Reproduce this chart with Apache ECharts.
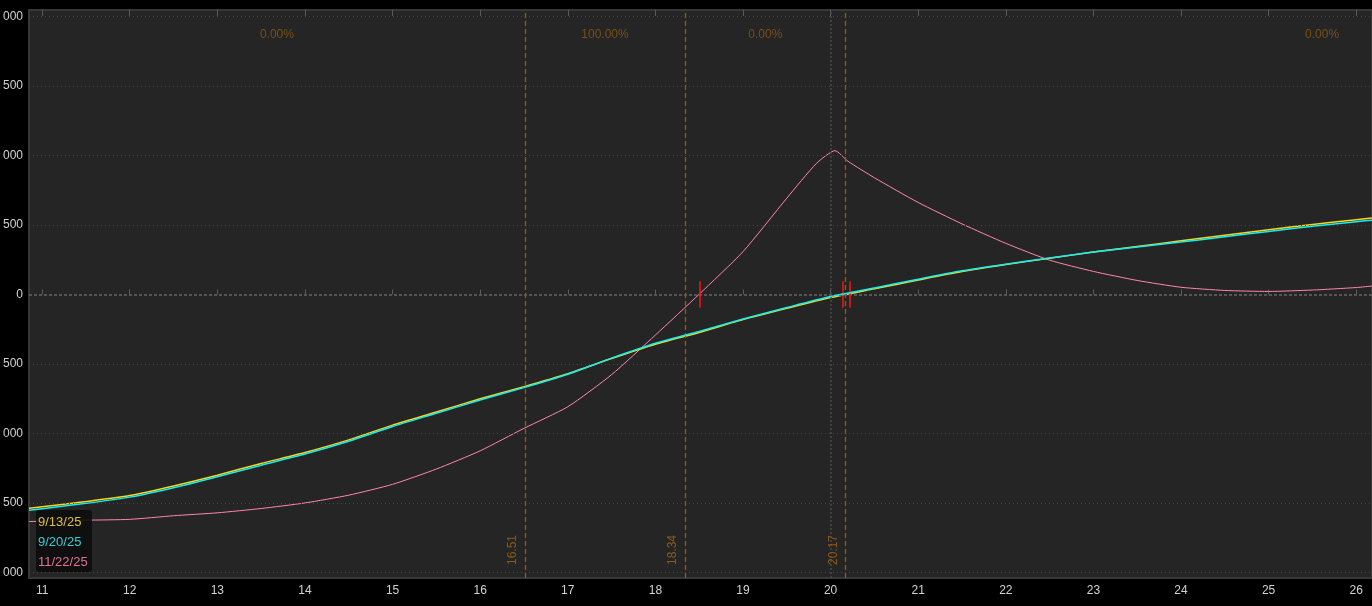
<!DOCTYPE html>
<html>
<head>
<meta charset="utf-8">
<style>
  html, body { margin: 0; padding: 0; background: #000; }
  #chart { width: 1372px; height: 606px; }
</style>
<script src="https://cdn.jsdelivr.net/npm/echarts@6/dist/echarts.min.js"></script>
</head>
<body>
<div id="chart"></div>
<script>
// ---- data ----
const xTicks = [11, 12, 13, 14, 15, 16, 17, 18, 19, 20, 21, 22, 23, 24, 25, 26];
const yTicks = [-2000, -1500, -1000, -500, 0, 500, 1000, 1500, 2000];

const seriesNames = ['9/13/25', '9/20/25', '11/22/25'];

const xs = [10.85, 11, 11.5, 12, 12.5, 13, 13.5, 14, 14.5, 15, 15.5, 16, 16.5, 17, 17.5, 18, 18.5, 19, 19.5, 20, 20.5, 21, 21.5, 22, 22.5, 23, 23.5, 24, 24.5, 25, 25.5, 26, 26.2];
const yellowVals = [-1538, -1527, -1490, -1447, -1378, -1300, -1216, -1137, -1046, -940, -846, -750, -663, -570, -461, -358, -273, -181, -100, -22, 41, 104, 165, 215, 261, 305, 346, 386, 427, 466, 504, 538, 552];
const cyanVals   = [-1552, -1541, -1503, -1458, -1390, -1311, -1228, -1148, -1056, -950, -855, -759, -670, -574, -458, -351, -266, -176, -94, -15, 47, 110, 170, 218, 263, 305, 341, 377, 416, 454, 491, 524, 536];

const pinkX = [10.85, 11.5, 12, 12.5, 13, 13.5, 14, 14.5, 15, 15.5, 16, 16.5, 17, 17.5, 18, 18.5, 19, 19.5, 19.84, 20.05, 20.2, 20.5, 21, 21.5, 22, 22.5, 23, 23.5, 24, 24.5, 25, 25.5, 26, 26.18];
const pinkVals = [-1634, -1624, -1618, -1592, -1571, -1540, -1500, -1444, -1366, -1256, -1125, -963, -808, -577, -292, 2, 308, 693, 944, 1035, 958, 840, 662, 508, 368, 247, 166, 101, 52, 29, 22, 32, 50, 61];

const strikeLines = [16.51, 18.34, 20.17];
const currentPrice = 20.0;
const zoneLabelX = [13.68, 17.425, 19.255, 25.61];
const zoneLabelY = [1867, 1867, 1867, 1867];
const zoneLabels = ['0.00%', '100.00%', '0.00%', '0.00%'];
const breakevens = [18.51, 20.134, 20.214];
const breakevenHalf = 96;

// ---- build ----
const FONT = 'Liberation Sans';
const ORANGE = '#9a580a';
const pair = (a, b) => a.map((v, i) => [v, b[i]]);

const gridLineData = yTicks.filter(v => v !== 0).map(v => ({
  yAxis: v,
  lineStyle: { type: [1, 3], color: '#464646', width: 1 },
  label: { show: false }
}));
const zeroLine = {
  yAxis: 0,
  lineStyle: { type: [3, 2], color: '#555555', width: 2 },
  label: { show: false }
};
const priceLine = {
  xAxis: currentPrice,
  lineStyle: { type: [2, 2], color: '#4a4a4a', width: 1.5 },
  label: { show: false }
};
const strikeData = strikeLines.map(v => ({
  xAxis: v,
  lineStyle: { color: ORANGE, type: [5, 3], width: 1.3 },
  label: { formatter: String(v) }
}));
const beData = breakevens.map(v => [
  { coord: [v, -breakevenHalf] },
  { coord: [v, breakevenHalf] }
]);

const chart = echarts.init(document.getElementById('chart'), null, { renderer: 'canvas' });
chart.setOption({
  backgroundColor: '#000000',
  animation: false,
  grid: {
    left: 29, right: 0, top: 10, bottom: 28,
    show: true, backgroundColor: '#252525', borderColor: '#383838', borderWidth: 2,
    outerBoundsMode: 'none'
  },
  xAxis: [{
    type: 'value', min: 10.85, max: 26.18, position: 'bottom',
    axisLine: { show: false },
    splitLine: { show: false },
    axisTick: { show: true, inside: true, length: 5, customValues: xTicks, lineStyle: { color: '#5a5a5a', width: 1 } },
    axisLabel: { show: true, customValues: xTicks, color: '#d2d2d2', fontFamily: FONT, fontSize: 12, margin: 7,
      formatter: v => String(v) }
  }, {
    type: 'value', min: 10.85, max: 26.18, position: 'top',
    axisLine: { show: false },
    splitLine: { show: false },
    axisTick: { show: true, inside: true, length: 6, customValues: xTicks, lineStyle: { color: '#5a5a5a', width: 1 } },
    axisLabel: { show: false }
  }],
  yAxis: {
    type: 'value', min: -2040, max: 2047,
    axisLine: { show: false },
    axisTick: { show: false },
    splitLine: { show: false },
    axisLabel: { show: true, customValues: yTicks, color: '#d2d2d2', fontFamily: FONT, fontSize: 12, margin: 6,
      formatter: v => String(v) }
  },
  legend: {
    data: [
      { name: seriesNames[0], textStyle: { color: '#dcbf45' } },
      { name: seriesNames[1], textStyle: { color: '#30d0d8' } },
      { name: seriesNames[2], textStyle: { color: '#dc7494' } }
    ],
    orient: 'vertical', left: 33, top: 515, padding: 0,
    icon: 'rect', itemWidth: 0, itemHeight: 14, itemGap: 6,
    itemStyle: { opacity: 0 }, lineStyle: { opacity: 0 },
    selectedMode: false, z: 11,
    textStyle: { fontFamily: FONT, fontSize: 13, lineHeight: 14 }
  },
  graphic: [{
    type: 'rect', left: 36, top: 510, z: 10, silent: true,
    shape: { width: 56, height: 62, r: 3 },
    style: { fill: 'rgba(12,12,12,0.88)' }
  }, {
    type: 'rect', left: 0, top: 0, z: 20, silent: true,
    shape: { width: 3, height: 606 },
    style: { fill: '#000000' }
  }],
  series: [{
    name: 'zones', type: 'scatter', z: 1,
    data: pair(zoneLabelX, zoneLabelY),
    symbolSize: 0, itemStyle: { color: '#8d5a14' },
    label: {
      show: true, position: 'inside',
      formatter: p => zoneLabels[p.dataIndex],
      color: '#8d5a14', fontFamily: FONT, fontSize: 12
    },
    silent: true,
    markLine: {
      silent: true, symbol: ['none', 'none'], animation: false, precision: 2,
      data: [...gridLineData, zeroLine, priceLine]
    }
  }, {
    name: 'strikes', type: 'scatter', z: 2,
    data: pair(zoneLabelX, zoneLabelY),
    symbolSize: 0, itemStyle: { color: ORANGE },
    silent: true,
    markLine: {
      silent: true, symbol: ['none', 'none'], animation: false, precision: 2,
      lineStyle: { type: [5, 3], color: ORANGE, width: 1.3, opacity: 1 },
      label: {
        show: true, position: 'insideStartTop',
        color: '#8d5a14', fontFamily: FONT, fontSize: 12, distance: [13, 6]
      },
      data: strikeData
    }
  }, {
    name: seriesNames[2], type: 'line', z: 3,
    data: pair(pinkX, pinkVals),
    showSymbol: false, symbol: 'none', smooth: 0.2,
    lineStyle: { color: '#ff86ae', width: 1 }, itemStyle: { color: '#ff86ae' }
  }, {
    name: seriesNames[0], type: 'line', z: 4,
    data: pair(xs, yellowVals),
    showSymbol: false, symbol: 'none', smooth: 0.2,
    lineStyle: { color: '#f7d51d', width: 1.5 }, itemStyle: { color: '#f7d51d' }
  }, {
    name: seriesNames[1], type: 'line', z: 5,
    data: pair(xs, cyanVals),
    showSymbol: false, symbol: 'none', smooth: 0.2,
    lineStyle: { color: '#14eef2', width: 1.5 }, itemStyle: { color: '#14eef2' },
    markLine: {
      silent: true, symbol: ['none', 'none'], animation: false,
      lineStyle: { color: '#ff1010', width: 1.5, type: 'solid' },
      label: { show: false },
      data: beData
    }
  }]
});
</script>
</body>
</html>
